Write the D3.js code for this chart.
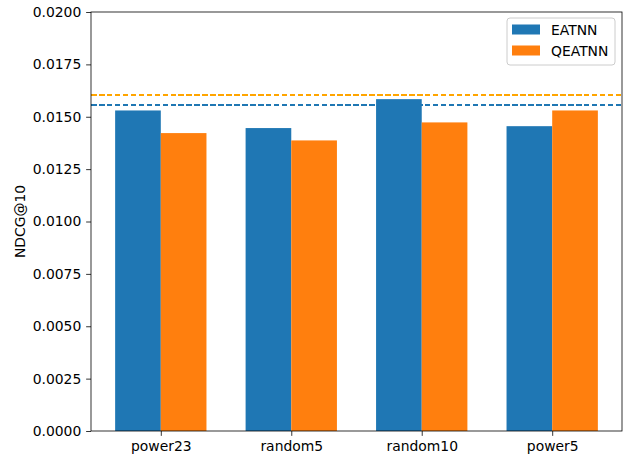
<!DOCTYPE html>
<html>
<head>
<meta charset="utf-8">
<script src="https://cdn.jsdelivr.net/npm/d3@7"></script>
<style>
  html, body { margin: 0; padding: 0; background: #fff; }
  svg { display: block; font-family: "DejaVu Sans", sans-serif; }
</style>
</head>
<body>
<svg id="chart" width="639" height="457"></svg>
<script>
// NDCG@10 per sampling scheme, two models
const categories = ["power23", "random5", "random10", "power5"];
const seriesNames = ["EATNN", "QEATNN"];
const eatnn = [0.01530, 0.01446, 0.01584, 0.01455];
const qeatnn = [0.01422, 0.01387, 0.01473, 0.01530];
// reference levels drawn as dashed horizontal lines
const refLines = [
  { value: 0.01602, color: "#ffa500" },
  { value: 0.01554, color: "#1f77b4" }
];
const yTicks = [0, 0.0025, 0.005, 0.0075, 0.01, 0.0125, 0.015, 0.0175, 0.02];

const colors = ["#1f77b4", "#ff7f0e"];
const series = [eatnn, qeatnn];

const svg = d3.select("#chart");
const plotL = 91, plotR = 622, plotT = 12, plotB = 431;
const fontSize = 13.9;
const barW = 0.35;

const x = d3.scaleLinear().domain([-0.535, categories.length - 1 + 0.535]).range([plotL, plotR]);
const y = d3.scaleLinear().domain([0, 0.02]).range([plotB, plotT]);

// bars
series.forEach((vals, s) => {
  svg.append("g").selectAll("rect")
    .data(vals)
    .join("rect")
    .attr("x", (d, i) => x(i + (s === 0 ? -barW : 0)))
    .attr("width", x(barW) - x(0))
    .attr("y", d => y(d))
    .attr("height", d => y(0) - y(d))
    .attr("fill", colors[s]);
});

// dashed reference lines
svg.append("g").selectAll("line")
  .data(refLines)
  .join("line")
  .attr("x1", plotL).attr("x2", plotR)
  .attr("y1", d => Math.round(y(d.value))).attr("y2", d => Math.round(y(d.value)))
  .attr("stroke", d => d.color)
  .attr("stroke-width", 2)
  .attr("shape-rendering", "crispEdges")
  .attr("stroke-dasharray", "5.55,2.4");

// axes
const yAxis = d3.axisLeft(y).tickValues(yTicks).tickFormat(d3.format(".4f"))
  .tickSize(4.86).tickPadding(4.86);
const xAxis = d3.axisBottom(x).tickValues(d3.range(categories.length))
  .tickFormat(i => categories[i]).tickSize(4.86).tickPadding(4.86);

const gy = svg.append("g").attr("transform", `translate(${plotL},0)`).call(yAxis);
const gx = svg.append("g").attr("transform", `translate(0,${plotB})`).call(xAxis);
[gy, gx].forEach(g => {
  g.select(".domain").remove();
  g.selectAll(".tick line").attr("stroke", "#000").attr("stroke-width", 0.8);
  g.selectAll(".tick text").attr("fill", "#000").style("font-size", fontSize + "px")
    .style("font-family", "'DejaVu Sans', sans-serif");
});
gy.selectAll(".tick text").attr("dy", "0.32em");

// frame
svg.append("rect")
  .attr("x", plotL).attr("y", plotT)
  .attr("width", plotR - plotL).attr("height", plotB - plotT)
  .attr("fill", "none").attr("stroke", "#000").attr("stroke-width", 0.8);

// y label
svg.append("text")
  .attr("transform", `translate(25,${(plotT + plotB) / 2}) rotate(-90)`)
  .attr("text-anchor", "middle")
  .style("font-size", fontSize + "px")
  .text("NDCG@10");

// legend
const lg = svg.append("g");
lg.append("rect")
  .attr("x", 507).attr("y", 18).attr("width", 108).attr("height", 47)
  .attr("rx", 3).attr("fill", "#fff").attr("fill-opacity", 0.8)
  .attr("stroke", "#cccccc").attr("stroke-width", 1);
seriesNames.forEach((name, i) => {
  const cy = 29.5 + i * 21;
  lg.append("rect").attr("x", 512).attr("y", cy - 5).attr("width", 28).attr("height", 10)
    .attr("fill", colors[i]);
  lg.append("text").attr("x", 551).attr("y", cy + 5)
    .style("font-size", fontSize + "px").text(name);
});
</script>
</body>
</html>
